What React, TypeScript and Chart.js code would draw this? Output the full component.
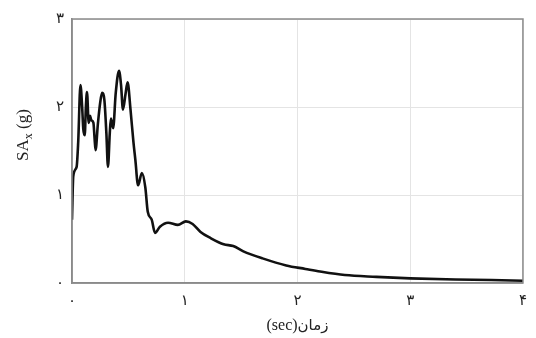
import React, { useEffect, useRef } from "react";
import { Chart, registerables } from "chart.js";

Chart.register(...registerables);

const periods = [0, 0.011, 0.041, 0.055, 0.075, 0.09, 0.1, 0.113, 0.123, 0.133, 0.148, 0.16, 0.171, 0.19, 0.2, 0.209, 0.229, 0.25, 0.267, 0.287, 0.305, 0.319, 0.335, 0.345, 0.365, 0.388, 0.417, 0.435, 0.452, 0.475, 0.493, 0.519, 0.545, 0.562, 0.586, 0.62, 0.65, 0.672, 0.707, 0.736, 0.78, 0.852, 0.939, 1.01, 1.07, 1.14, 1.23, 1.345, 1.43, 1.52, 1.69, 1.9, 2.07, 2.2, 2.42, 2.7, 3.0, 3.4, 3.72, 4.0];
const saValues = [0.72, 1.21, 1.32, 1.6, 2.25, 2.0, 1.75, 1.68, 2.0, 2.17, 1.82, 1.9, 1.85, 1.82, 1.65, 1.51, 1.8, 2.05, 2.16, 2.08, 1.7, 1.32, 1.7, 1.87, 1.76, 2.16, 2.41, 2.25, 1.97, 2.15, 2.28, 1.97, 1.6, 1.4, 1.11, 1.25, 1.09, 0.81, 0.72, 0.57, 0.64, 0.685, 0.66, 0.7, 0.67, 0.58, 0.51, 0.44, 0.42, 0.36, 0.28, 0.2, 0.16, 0.13, 0.09, 0.07, 0.053, 0.04, 0.034, 0.025];
const xTickLabels = ["۰", "۱", "۲", "۳", "۴"];
const yTickLabels = ["۰", "۱", "۲", "۳"];
const xTitleLatin = "(sec)";
const xTitleFarsi = "زمان";
const yTitleMain = "SA";
const yTitleSub = "x";
const yTitleTail = " (g)";

const FONT = '"Liberation Serif", "DejaVu Serif", serif';
const FA_FONT = '"DejaVu Sans", sans-serif';

const framePlugin = {
  id: "framePlugin",
  afterDraw(chart: any) {
    const { ctx, chartArea } = chart;
    ctx.save();
    ctx.strokeStyle = "#8a8a8a";
    ctx.lineWidth = 1.5;
    ctx.strokeRect(chartArea.left, chartArea.top, chartArea.right - chartArea.left, chartArea.bottom - chartArea.top);

    // y title with subscript
    ctx.translate(22, 135);
    ctx.rotate(-Math.PI / 2);
    ctx.fillStyle = "#222";
    ctx.textBaseline = "alphabetic";
    ctx.textAlign = "left";
    const big = `17px ${FONT}`;
    const small = `12px ${FONT}`;
    ctx.font = big;
    const w1 = ctx.measureText(yTitleMain).width;
    const w3 = ctx.measureText(yTitleTail).width;
    ctx.font = small;
    const w2 = ctx.measureText(yTitleSub).width;
    const total = w1 + w2 + w3;
    let x = -total / 2;
    const base = 6;
    ctx.font = big;
    ctx.fillText(yTitleMain, x, base);
    x += w1;
    ctx.font = small;
    ctx.fillText(yTitleSub, x, base + 4);
    x += w2;
    ctx.font = big;
    ctx.fillText(yTitleTail, x, base);
    ctx.restore();

    // x title: "(sec)" then Persian word to its right
    ctx.save();
    ctx.fillStyle = "#222";
    ctx.textBaseline = "alphabetic";
    ctx.textAlign = "left";
    const latinFont = `16px ${FONT}`;
    const faFont = `15px ${FA_FONT}`;
    ctx.font = latinFont;
    const lw = ctx.measureText(xTitleLatin).width;
    ctx.font = faFont;
    const fw = ctx.measureText(xTitleFarsi).width;
    const cx = (chartArea.left + chartArea.right) / 2;
    let sx = cx - (lw + fw) / 2;
    const by = 330;
    ctx.font = latinFont;
    ctx.fillText(xTitleLatin, sx, by);
    sx += lw;
    ctx.font = faFont;
    ctx.fillText(xTitleFarsi, sx, by);
    ctx.restore();
  },
};

export default function App() {
  const ref = useRef<HTMLCanvasElement | null>(null);
  useEffect(() => {
    if (!ref.current) return;
    const data = periods.map((p, i) => ({ x: p, y: saValues[i] }));
    const chart = new Chart(ref.current, {
      type: "line",
      data: {
        datasets: [
          {
            data,
            borderColor: "#111",
            borderWidth: 2.6,
            pointRadius: 0,
            fill: false,
            cubicInterpolationMode: "monotone",
          },
        ],
      },
      options: {
        animation: false,
        responsive: true,
        maintainAspectRatio: false,
        layout: { padding: { top: 19, right: 4, left: 0, bottom: 0 } },
        plugins: { legend: { display: false }, tooltip: { enabled: false } },
        scales: {
          x: {
            type: "linear",
            min: 0,
            max: 4,
            ticks: {
              stepSize: 1,
              padding: 9,
              color: "#222",
              font: { family: FA_FONT, size: 15 },
              maxRotation: 0,
              callback: (v: any) => xTickLabels[Math.round(Number(v))] ?? "",
            },
            grid: { color: "#e4e4e4", drawTicks: false, lineWidth: 1 },
            border: { display: true, color: "#8a8a8a", width: 1.5 },
            afterFit: (s: any) => {
              s.height = 55;
            },
          },
          y: {
            type: "linear",
            min: 0,
            max: 3,
            ticks: {
              stepSize: 1,
              padding: 8,
              color: "#222",
              font: { family: FA_FONT, size: 15 },
              callback: (v: any) => yTickLabels[Math.round(Number(v))] ?? "",
            },
            grid: { color: "#e4e4e4", drawTicks: false, lineWidth: 1 },
            border: { display: true, color: "#8a8a8a", width: 1.5 },
            afterFit: (s: any) => {
              s.width = 72;
            },
          },
        },
      },
      plugins: [framePlugin],
    } as any);
    return () => chart.destroy();
  }, []);
  return (
    <div style={{ position: "fixed", left: 0, top: 0, width: 536, height: 338, background: "#fff" }}>
      <canvas ref={ref} />
    </div>
  );
}
